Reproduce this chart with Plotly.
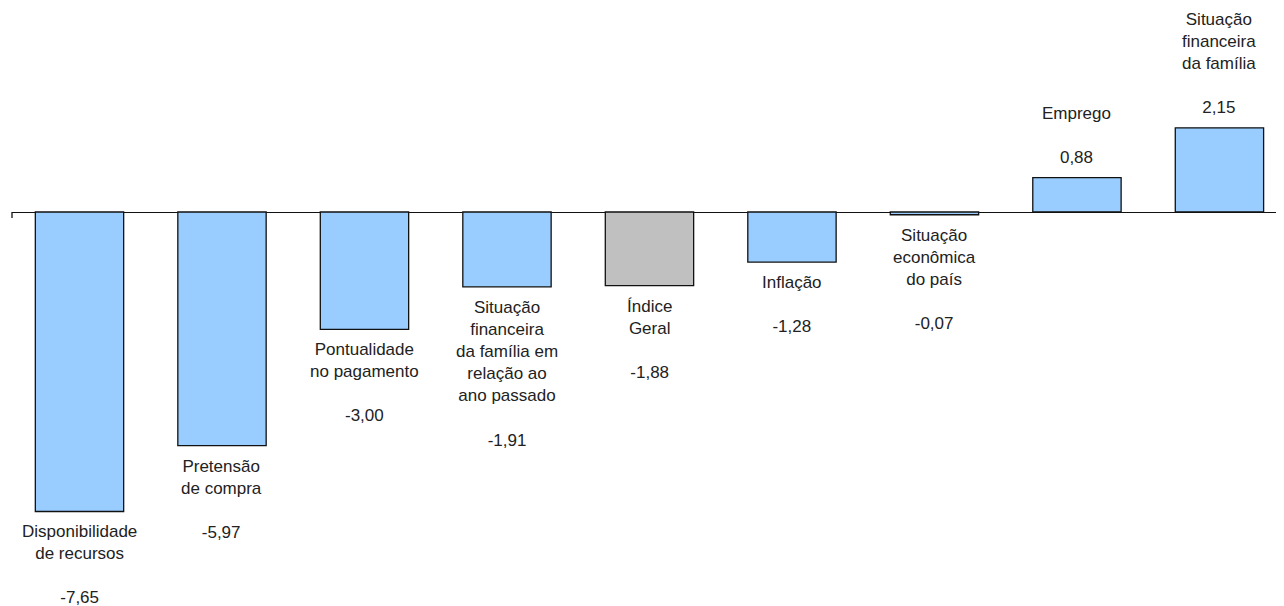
import plotly.graph_objects as go

categories = [
    "Disponibilidade<br>de recursos",
    "Pretensão<br>de compra",
    "Pontualidade<br>no pagamento",
    "Situação<br>financeira<br>da família em<br>relação ao<br>ano passado",
    "Índice<br>Geral",
    "Inflação",
    "Situação<br>econômica<br>do país",
    "Emprego",
    "Situação<br>financeira<br>da família",
]
values = [-7.65, -5.97, -3.00, -1.91, -1.88, -1.28, -0.07, 0.88, 2.15]
highlight = "Índice<br>Geral"

BLUE = "#99CCFF"
GRAY = "#C0C0C0"
FONT = "Liberation Sans, Arial, sans-serif"

xs = list(range(len(categories)))
colors = [GRAY if c == highlight else BLUE for c in categories]

fig = go.Figure()
fig.add_trace(go.Bar(
    x=xs, y=values, width=0.62,
    marker=dict(color=colors, line=dict(color="#111111", width=1.3)),
    hoverinfo="skip",
))

def fmt(v):
    return f"{v:.2f}".replace(".", ",")

for x, c, v in zip(xs, categories, values):
    neg = v < 0
    fig.add_annotation(
        x=x, y=v, xref="x", yref="y",
        text=f"{c}<br><br>{fmt(v)}",
        showarrow=False,
        yanchor="top" if neg else "bottom",
        yshift=-9 if neg else 9,
        align="center",
        font=dict(family=FONT, size=17, color="#222222"),
    )

# small tick stub at left end of the zero line
fig.add_shape(type="line", xref="paper", x0=0, x1=0, yref="y",
              ysizemode="pixel", yanchor=0, y0=0, y1=-6,
              line=dict(color="#111111", width=1.3))

fig.update_layout(
    width=1276, height=598, autosize=False,
    margin=dict(l=4, r=0, t=0, b=0),
    paper_bgcolor="white", plot_bgcolor="white",
    showlegend=False,
    xaxis=dict(range=[-0.4737, 8.453], showticklabels=False, showgrid=False,
               zeroline=False, showline=False, ticks=""),
    yaxis=dict(range=[-10.064, 5.211], showticklabels=False, showgrid=False,
               zeroline=True, zerolinecolor="#111111", zerolinewidth=1.3,
               showline=False, ticks=""),
)

fig.write_html("out.html")
